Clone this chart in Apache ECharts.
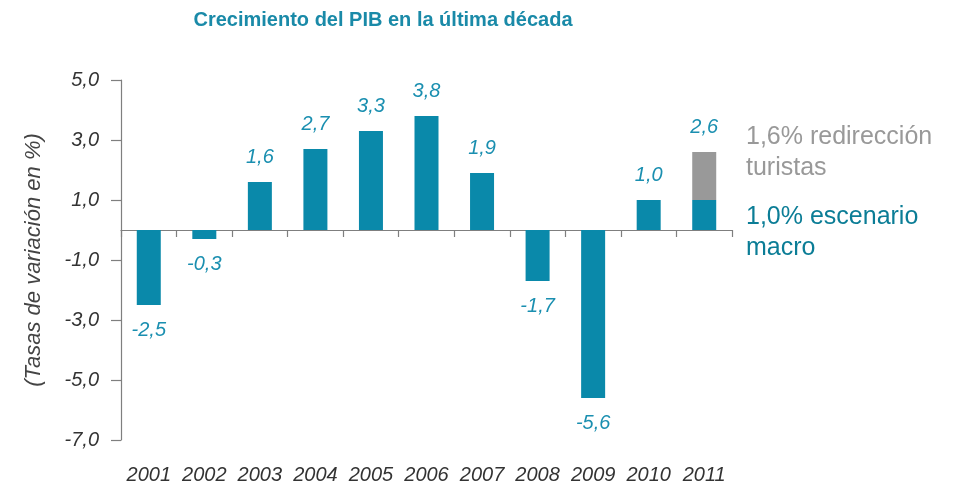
<!DOCTYPE html>
<html>
<head>
<meta charset="utf-8">
<script src="https://cdn.jsdelivr.net/npm/echarts@6/dist/echarts.min.js"></script>
<style>
  html, body { margin: 0; padding: 0; background: #fff; }
  #chart { width: 958px; height: 487px; }
</style>
</head>
<body>
<div id="chart"></div>
<script>
// Datos
const years = ['2001', '2002', '2003', '2004', '2005', '2006', '2007', '2008', '2009', '2010', '2011'];
const macro = [-2.5, -0.3, 1.6, 2.7, 3.3, 3.8, 1.9, -1.7, -5.6, 1.0, 1.0];
const redireccion = [null, null, null, null, null, null, null, null, null, null, 1.6];
const yTicks = { min: -7, max: 5, step: 2 };

const FONT = "'Liberation Sans', Arial, Helvetica, sans-serif";
const TEAL = '#0a89aa';
const LABEL_TEAL = '#1a8fb0';
const GRAY = '#999999';

function fmt(v) {
  return Number(v).toFixed(1).replace('.', ',');
}

const chart = echarts.init(document.getElementById('chart'));

const option = {
  animation: false,
  title: {
    text: 'Crecimiento del PIB en la última década',
    left: 378,
    textAlign: 'center',
    top: 5,
    textStyle: { fontFamily: FONT, fontSize: 20, fontWeight: 'bold', color: '#1a8aa8' }
  },
  grid: { left: 121, right: 226, top: 80, bottom: 47 },
  xAxis: [
    {
      type: 'category',
      data: years,
      axisLine: { onZero: true, lineStyle: { color: '#7f7f7f', width: 1.2 } },
      axisTick: { show: true, length: 7, lineStyle: { color: '#7f7f7f', width: 1.2 } },
      axisLabel: { show: false }
    },
    {
      type: 'category',
      data: years,
      position: 'bottom',
      axisLine: { show: false, onZero: false },
      axisTick: { show: false },
      axisLabel: {
        interval: 0,
        hideOverlap: false,
        margin: 25,
        fontFamily: FONT, fontSize: 20, fontStyle: 'italic', color: '#333'
      }
    }
  ],
  yAxis: {
    type: 'value',
    min: yTicks.min,
    max: yTicks.max,
    interval: yTicks.step,
    name: '(Tasas de variación en %)',
    nameLocation: 'middle',
    nameGap: 76,
    nameRotate: 90,
    nameTextStyle: { fontFamily: FONT, fontSize: 22, fontStyle: 'italic', color: '#444' },
    axisLine: { show: true, lineStyle: { color: '#7f7f7f', width: 1.2 } },
    axisTick: { show: true, length: 10, lineStyle: { color: '#7f7f7f', width: 1.2 } },
    splitLine: { show: false },
    axisLabel: {
      margin: 22,
      formatter: fmt,
      fontFamily: FONT, fontSize: 20, fontStyle: 'italic', color: '#333'
    }
  },
  series: [
    {
      name: 'escenario macro',
      type: 'bar',
      stack: 'pib',
      barWidth: 24,
      itemStyle: { color: TEAL },
      data: macro.map((v, i) => ({
        value: v,
        label: {
          show: redireccion[i] == null,
          position: v < 0 ? 'bottom' : 'top'
        }
      })),
      label: {
        distance: 15,
        formatter: p => fmt(p.value),
        fontFamily: FONT, fontSize: 20, fontStyle: 'italic', color: LABEL_TEAL
      }
    },
    {
      name: 'redirección turistas',
      type: 'bar',
      stack: 'pib',
      barWidth: 24,
      itemStyle: { color: GRAY },
      data: redireccion,
      label: {
        show: true,
        position: 'top',
        distance: 15,
        formatter: p => fmt(macro[p.dataIndex] + redireccion[p.dataIndex]),
        fontFamily: FONT, fontSize: 20, fontStyle: 'italic', color: LABEL_TEAL
      }
    }
  ],
  graphic: [
    {
      type: 'text',
      left: 746,
      top: 122,
      style: {
        text: '1,6% redirección\nturistas',
        font: '25px ' + FONT,
        lineHeight: 31,
        fill: GRAY
      }
    },
    {
      type: 'text',
      left: 746,
      top: 202,
      style: {
        text: '1,0% escenario\nmacro',
        font: '25px ' + FONT,
        lineHeight: 31,
        fill: '#0b7d96'
      }
    }
  ]
};

chart.setOption(option);
</script>
</body>
</html>
